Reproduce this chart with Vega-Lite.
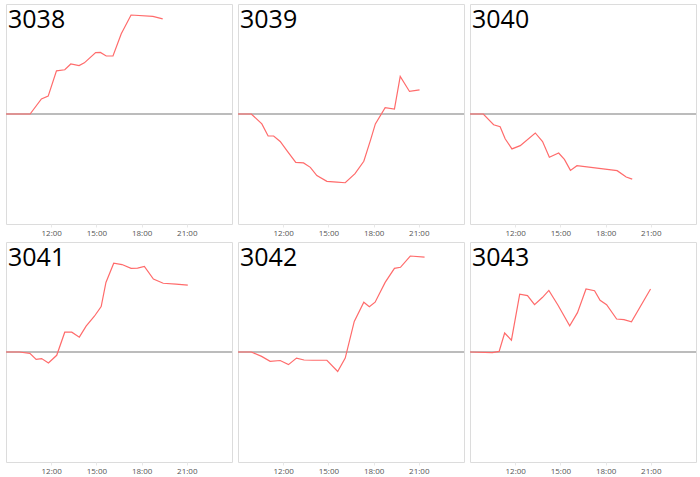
{
  "$schema": "https://vega.github.io/schema/vega-lite/v6.json",
  "padding": {"left": 3, "top": 3, "right": 0, "bottom": 0},
  "background": "white",
  "data": {"values": [
    {"id":"3038","t":"2024-01-01T09:00","v":0},
    {"id":"3038","t":"2024-01-01T10:36","v":0},
    {"id":"3038","t":"2024-01-01T11:21","v":0.55},
    {"id":"3038","t":"2024-01-01T11:48","v":0.65},
    {"id":"3038","t":"2024-01-01T12:21","v":1.57},
    {"id":"3038","t":"2024-01-01T12:54","v":1.61},
    {"id":"3038","t":"2024-01-01T13:18","v":1.82},
    {"id":"3038","t":"2024-01-01T13:51","v":1.76},
    {"id":"3038","t":"2024-01-01T14:12","v":1.86},
    {"id":"3038","t":"2024-01-01T14:57","v":2.23},
    {"id":"3038","t":"2024-01-01T15:16","v":2.24},
    {"id":"3038","t":"2024-01-01T15:39","v":2.11},
    {"id":"3038","t":"2024-01-01T16:06","v":2.11},
    {"id":"3038","t":"2024-01-01T16:39","v":2.92},
    {"id":"3038","t":"2024-01-01T17:18","v":3.6},
    {"id":"3038","t":"2024-01-01T18:45","v":3.55},
    {"id":"3038","t":"2024-01-01T19:24","v":3.46},
    {"id":"3039","t":"2024-01-01T09:00","v":0},
    {"id":"3039","t":"2024-01-01T09:53","v":0},
    {"id":"3039","t":"2024-01-01T10:35","v":-0.36},
    {"id":"3039","t":"2024-01-01T11:00","v":-0.8},
    {"id":"3039","t":"2024-01-01T11:22","v":-0.8},
    {"id":"3039","t":"2024-01-01T11:48","v":-1.0},
    {"id":"3039","t":"2024-01-01T12:17","v":-1.36},
    {"id":"3039","t":"2024-01-01T12:50","v":-1.76},
    {"id":"3039","t":"2024-01-01T13:21","v":-1.78},
    {"id":"3039","t":"2024-01-01T13:48","v":-1.94},
    {"id":"3039","t":"2024-01-01T14:14","v":-2.24},
    {"id":"3039","t":"2024-01-01T14:54","v":-2.45},
    {"id":"3039","t":"2024-01-01T15:34","v":-2.48},
    {"id":"3039","t":"2024-01-01T16:07","v":-2.5},
    {"id":"3039","t":"2024-01-01T16:46","v":-2.17},
    {"id":"3039","t":"2024-01-01T17:21","v":-1.72},
    {"id":"3039","t":"2024-01-01T17:48","v":-0.94},
    {"id":"3039","t":"2024-01-01T18:07","v":-0.36},
    {"id":"3039","t":"2024-01-01T18:46","v":0.23},
    {"id":"3039","t":"2024-01-01T19:23","v":0.18},
    {"id":"3039","t":"2024-01-01T19:46","v":1.37},
    {"id":"3039","t":"2024-01-01T20:23","v":0.82},
    {"id":"3039","t":"2024-01-01T21:03","v":0.88},
    {"id":"3040","t":"2024-01-01T09:00","v":0},
    {"id":"3040","t":"2024-01-01T09:53","v":0},
    {"id":"3040","t":"2024-01-01T10:34","v":-0.39},
    {"id":"3040","t":"2024-01-01T11:00","v":-0.46},
    {"id":"3040","t":"2024-01-01T11:20","v":-0.9},
    {"id":"3040","t":"2024-01-01T11:47","v":-1.27},
    {"id":"3040","t":"2024-01-01T12:20","v":-1.15},
    {"id":"3040","t":"2024-01-01T13:20","v":-0.69},
    {"id":"3040","t":"2024-01-01T13:49","v":-1.0},
    {"id":"3040","t":"2024-01-01T14:16","v":-1.57},
    {"id":"3040","t":"2024-01-01T14:53","v":-1.42},
    {"id":"3040","t":"2024-01-01T15:16","v":-1.65},
    {"id":"3040","t":"2024-01-01T15:40","v":-2.05},
    {"id":"3040","t":"2024-01-01T16:06","v":-1.88},
    {"id":"3040","t":"2024-01-01T18:46","v":-2.06},
    {"id":"3040","t":"2024-01-01T19:22","v":-2.29},
    {"id":"3040","t":"2024-01-01T19:46","v":-2.37},
    {"id":"3041","t":"2024-01-01T09:00","v":0},
    {"id":"3041","t":"2024-01-01T09:53","v":0},
    {"id":"3041","t":"2024-01-01T10:35","v":-0.05},
    {"id":"3041","t":"2024-01-01T11:00","v":-0.27},
    {"id":"3041","t":"2024-01-01T11:22","v":-0.24},
    {"id":"3041","t":"2024-01-01T11:49","v":-0.4},
    {"id":"3041","t":"2024-01-01T12:22","v":-0.12},
    {"id":"3041","t":"2024-01-01T12:54","v":0.72},
    {"id":"3041","t":"2024-01-01T13:22","v":0.72},
    {"id":"3041","t":"2024-01-01T13:52","v":0.54},
    {"id":"3041","t":"2024-01-01T14:19","v":0.94},
    {"id":"3041","t":"2024-01-01T14:52","v":1.3},
    {"id":"3041","t":"2024-01-01T15:19","v":1.65},
    {"id":"3041","t":"2024-01-01T15:38","v":2.53},
    {"id":"3041","t":"2024-01-01T16:09","v":3.23},
    {"id":"3041","t":"2024-01-01T16:42","v":3.18},
    {"id":"3041","t":"2024-01-01T17:18","v":3.04},
    {"id":"3041","t":"2024-01-01T17:44","v":3.05},
    {"id":"3041","t":"2024-01-01T18:11","v":3.11},
    {"id":"3041","t":"2024-01-01T18:47","v":2.65},
    {"id":"3041","t":"2024-01-01T19:26","v":2.5},
    {"id":"3041","t":"2024-01-01T20:17","v":2.47},
    {"id":"3041","t":"2024-01-01T21:04","v":2.43},
    {"id":"3042","t":"2024-01-01T09:00","v":0},
    {"id":"3042","t":"2024-01-01T09:53","v":0},
    {"id":"3042","t":"2024-01-01T10:34","v":-0.16},
    {"id":"3042","t":"2024-01-01T11:08","v":-0.34},
    {"id":"3042","t":"2024-01-01T11:48","v":-0.31},
    {"id":"3042","t":"2024-01-01T12:21","v":-0.46},
    {"id":"3042","t":"2024-01-01T12:53","v":-0.22},
    {"id":"3042","t":"2024-01-01T13:23","v":-0.29},
    {"id":"3042","t":"2024-01-01T13:57","v":-0.3},
    {"id":"3042","t":"2024-01-01T14:54","v":-0.3},
    {"id":"3042","t":"2024-01-01T15:37","v":-0.71},
    {"id":"3042","t":"2024-01-01T16:07","v":-0.22},
    {"id":"3042","t":"2024-01-01T16:43","v":1.11},
    {"id":"3042","t":"2024-01-01T17:21","v":1.81},
    {"id":"3042","t":"2024-01-01T17:43","v":1.65},
    {"id":"3042","t":"2024-01-01T18:06","v":1.81},
    {"id":"3042","t":"2024-01-01T18:46","v":2.53},
    {"id":"3042","t":"2024-01-01T19:23","v":3.04},
    {"id":"3042","t":"2024-01-01T19:47","v":3.08},
    {"id":"3042","t":"2024-01-01T20:26","v":3.49},
    {"id":"3042","t":"2024-01-01T21:23","v":3.45},
    {"id":"3043","t":"2024-01-01T09:00","v":0},
    {"id":"3043","t":"2024-01-01T10:29","v":-0.02},
    {"id":"3043","t":"2024-01-01T10:56","v":0.02},
    {"id":"3043","t":"2024-01-01T11:18","v":0.69},
    {"id":"3043","t":"2024-01-01T11:45","v":0.43},
    {"id":"3043","t":"2024-01-01T12:18","v":2.1},
    {"id":"3043","t":"2024-01-01T12:49","v":2.05},
    {"id":"3043","t":"2024-01-01T13:17","v":1.72},
    {"id":"3043","t":"2024-01-01T13:48","v":1.98},
    {"id":"3043","t":"2024-01-01T14:14","v":2.24},
    {"id":"3043","t":"2024-01-01T14:50","v":1.71},
    {"id":"3043","t":"2024-01-01T15:37","v":0.95},
    {"id":"3043","t":"2024-01-01T16:08","v":1.43},
    {"id":"3043","t":"2024-01-01T16:42","v":2.29},
    {"id":"3043","t":"2024-01-01T17:16","v":2.23},
    {"id":"3043","t":"2024-01-01T17:38","v":1.88},
    {"id":"3043","t":"2024-01-01T18:04","v":1.72},
    {"id":"3043","t":"2024-01-01T18:44","v":1.2},
    {"id":"3043","t":"2024-01-01T19:13","v":1.18},
    {"id":"3043","t":"2024-01-01T19:43","v":1.1},
    {"id":"3043","t":"2024-01-01T20:59","v":2.29}
  ]},
  "facet": {"field": "id", "type": "nominal", "title": null, "header": {"title": null, "labelExpr": "''", "labelFontSize": 0, "labelPadding": 0}},
  "columns": 3,
  "spacing": {"column": 1, "row": 3},
  "resolve": {"axis": {"x": "independent"}},
  "spec": {
    "width": 226,
    "height": 220,
    "layer": [
      {
        "mark": {"type": "rule", "color": "#bdbdbd", "strokeWidth": 1.3},
        "encoding": {"y": {"datum": 0, "type": "quantitative"}}
      },
      {
        "mark": {"type": "line", "color": "#ff6b6b", "strokeWidth": 1.2},
        "encoding": {
          "x": {
            "field": "t", "type": "temporal",
            "scale": {"domain": [{"year":2024,"month":1,"date":1,"hours":9},{"year":2024,"month":1,"date":2,"hours":0}]},
            "axis": {
              "title": null, "format": "%H:%M", "grid": false, "domain": false,
              "values": [
                {"year":2024,"month":1,"date":1,"hours":12},
                {"year":2024,"month":1,"date":1,"hours":15},
                {"year":2024,"month":1,"date":1,"hours":18},
                {"year":2024,"month":1,"date":1,"hours":21}
              ],
              "labelFontSize": 8, "labelColor": "#555555", "labelFont": "Open Sans",
              "tickColor": "#e8e8e8", "tickSize": 3, "labelPadding": 2
            }
          },
          "y": {
            "field": "v", "type": "quantitative",
            "scale": {"domain": [-4, 4]},
            "axis": {
              "title": null, "labels": false, "ticks": false, "domain": false,
              "values": [-3, -2, -1, 1, 2, 3], "gridColor": "#ececec"
            }
          }
        }
      },
      {
        "transform": [{"aggregate": [{"op": "count", "as": "n"}], "groupby": ["id"]}],
        "mark": {"type": "text", "align": "left", "baseline": "alphabetic", "dx": 2, "dy": 24, "fontSize": 25, "font": "Open Sans", "color": "black"},
        "encoding": {
          "x": {"datum": {"year":2024,"month":1,"date":1,"hours":9}, "type": "temporal"},
          "y": {"datum": 4, "type": "quantitative"},
          "text": {"field": "id"}
        }
      }
    ]
  },
  "config": {
    "view": {"stroke": "#dcdcdc", "strokeWidth": 1}
  }
}
